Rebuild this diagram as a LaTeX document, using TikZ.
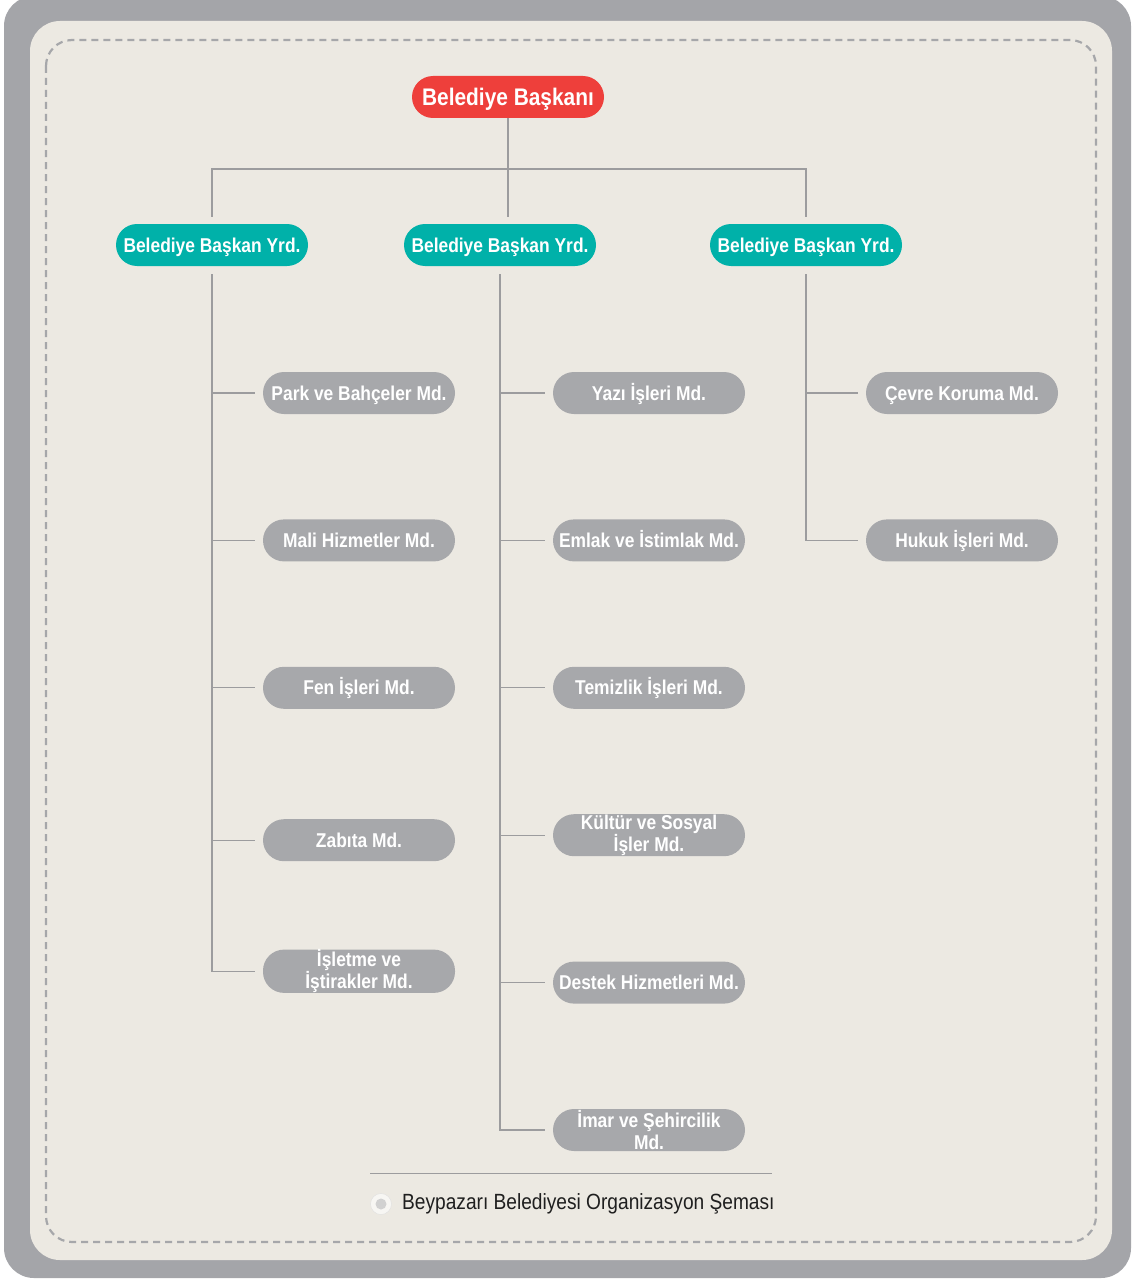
\documentclass[tikz,border=0pt]{standalone}
\usepackage{fontspec}
\setmainfont{Liberation Sans}[FakeStretch=0.87]
\usepackage{tikz}
\usetikzlibrary{positioning}
\usetikzlibrary{calc}

\definecolor{frame}{HTML}{A4A5A9}
\definecolor{paper}{HTML}{ECE9E2}
\definecolor{dashgray}{HTML}{A6A7AA}
\definecolor{boss}{HTML}{EE3F3B}
\definecolor{deputy}{HTML}{00B1A9}
\definecolor{office}{HTML}{A7A8AB}
\definecolor{wire}{HTML}{9C9C9E}

\begin{document}
\begin{tikzpicture}[x=1pt, y=-1pt,
    pill/.style={rounded corners=21pt, minimum width=192pt, minimum height=42pt,
        inner sep=0pt, text=white, font=\bfseries\fontsize{20}{20}\selectfont, align=center,
        text height=14pt, text depth=0pt},
    twoline/.style={text height=, text depth=, font=\bfseries\fontsize{20}{22}\selectfont},
    baskanbox/.style={pill, fill=boss, font=\bfseries\fontsize{24}{24}\selectfont, text height=17pt},
    yrdbox/.style={pill, fill=deputy},
    mdbox/.style={pill, fill=office},
    conn/.style={draw=wire, line width=1.3pt}]
            \useasboundingbox (0,0) rectangle (1132,1279);
            \fill[frame, rounded corners=30pt] (4,-4) rectangle (1131,1278);
            \fill[paper, rounded corners=30pt] (30,21) rectangle (1112,1260);
            \draw[dashgray, line width=2.2pt, dash pattern=on 7pt off 5pt, rounded corners=26pt] (46,40) rectangle (1096,1242);

            \node[baskanbox] (baskan) at (508,97) {Belediye Başkanı};
            \node[yrdbox] (yrd1) at (212,245) {Belediye Başkan Yrd.};
            \node[yrdbox] (yrd2) at (500,245) {Belediye Başkan Yrd.};
            \node[yrdbox] (yrd3) at (806,245) {Belediye Başkan Yrd.};

            \node[mdbox] (park) at (359,393) {Park ve Bahçeler Md.};
            \node[mdbox, below=105pt of park] (mali) {Mali Hizmetler Md.};
            \node[mdbox, below=105pt of mali] (fen) {Fen İşleri Md.};
            \node[mdbox, below=110pt of fen] (zabita) {Zabıta Md.};
            \node[mdbox, twoline, below=88pt of zabita] (isletme) {İşletme ve\\İştirakler Md.};

            \node[mdbox] (yazi) at (649,393) {Yazı İşleri Md.};
            \node[mdbox, below=105pt of yazi] (emlak) {Emlak ve İstimlak Md.};
            \node[mdbox, below=105pt of emlak] (temizlik) {Temizlik İşleri Md.};
            \node[mdbox, twoline, below=105pt of temizlik] (kultur) {Kültür ve Sosyal\\İşler Md.};
            \node[mdbox, below=105pt of kultur] (destek) {Destek Hizmetleri Md.};
            \node[mdbox, twoline, below=105pt of destek] (imar) {İmar ve Şehircilik\\Md.};

            \node[mdbox] (cevre) at (962,393) {Çevre Koruma Md.};
            \node[mdbox, below=105pt of cevre] (hukuk) {Hukuk İşleri Md.};

            % top level
            \coordinate (bus) at (508,169);
            \draw[conn] (baskan.south) -- ([yshift=7pt]baskan.south |- yrd2.north);
            \draw[conn] ([yshift=7pt]yrd1.north) |- (bus -| yrd3.north) -- ([yshift=7pt]yrd3.north);

            % left column
            \draw[conn] ([yshift=-8pt]yrd1.south) |- ([xshift=-8pt]isletme.west);
            \draw[conn] (yrd1.south |- park.west) -- ([xshift=-8pt]park.west);
            \draw[conn] (yrd1.south |- mali.west) -- ([xshift=-8pt]mali.west);
            \draw[conn] (yrd1.south |- fen.west) -- ([xshift=-8pt]fen.west);
            \draw[conn] (yrd1.south |- zabita.west) -- ([xshift=-8pt]zabita.west);

            % middle column
            \draw[conn] ([yshift=-8pt]yrd2.south) |- ([xshift=-8pt]imar.west);
            \draw[conn] (yrd2.south |- yazi.west) -- ([xshift=-8pt]yazi.west);
            \draw[conn] (yrd2.south |- emlak.west) -- ([xshift=-8pt]emlak.west);
            \draw[conn] (yrd2.south |- temizlik.west) -- ([xshift=-8pt]temizlik.west);
            \draw[conn] (yrd2.south |- kultur.west) -- ([xshift=-8pt]kultur.west);
            \draw[conn] (yrd2.south |- destek.west) -- ([xshift=-8pt]destek.west);

            % right column
            \draw[conn] ([yshift=-8pt]yrd3.south) |- ([xshift=-8pt]hukuk.west);
            \draw[conn] (yrd3.south |- cevre.west) -- ([xshift=-8pt]cevre.west);

            % caption
            \coordinate (capl) at (370,1173);
            \coordinate (capr) at (772,1173);
            \draw[conn, line width=1pt] (capl) -- (capr);
            \node[circle, minimum size=21pt, inner sep=0pt, fill=white!60!paper, draw=black!12] (dot) at (381,1204) {};
            \fill[black!18] (dot) circle (5.5pt);
            \node[anchor=west, inner sep=0pt, text=black!88, font=\fontsize{22}{22}\selectfont] (caption) at (402,1204) {Beypazarı Belediyesi Organizasyon Şeması};
        \end{tikzpicture}
\end{document}
